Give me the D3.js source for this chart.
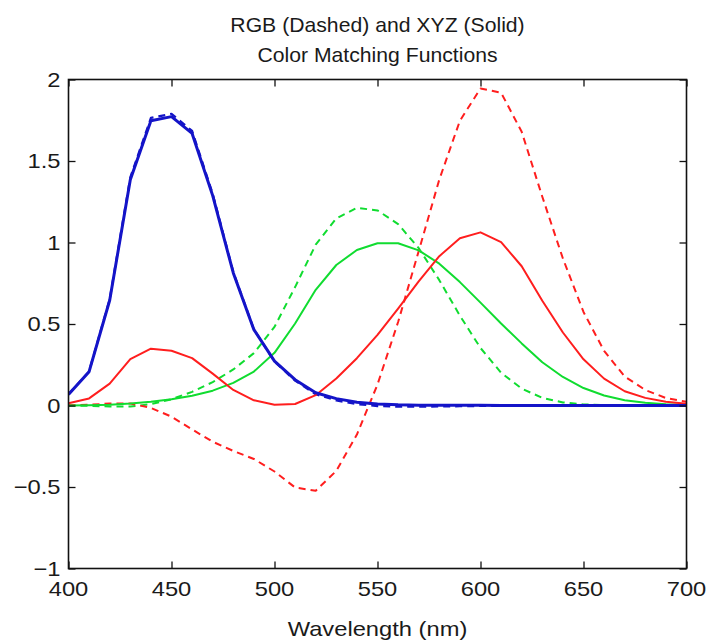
<!DOCTYPE html>
<html>
<head>
<meta charset="utf-8">
<script src="https://cdn.jsdelivr.net/npm/d3@7"></script>
<style>
  html, body { margin: 0; padding: 0; background: #fff; }
  svg { display: block; }
  text { font-family: "Liberation Sans", Arial, Helvetica, sans-serif; fill: #1a1a1a; }
</style>
</head>
<body>
<svg id="chart" width="712" height="641"></svg>
<script>
// ---- Data ----
const wavelengths = [400,410,420,430,440,450,460,470,480,490,500,510,520,530,540,550,560,570,580,590,600,610,620,630,640,650,660,670,680,690,700];

// RGB colour matching functions (dashed)
const rBar = [0.0017,0.0047,0.0119,0.0123,-0.0147,-0.0685,-0.147,-0.222,-0.279,-0.328,-0.405,-0.503,-0.523,-0.401,-0.178,0.129,0.512,0.947,1.386,1.747,1.945,1.919,1.679,1.281,0.902,0.574,0.335,0.178,0.095,0.046,0.023];
const gBar = [-0.0008,-0.0023,-0.0062,-0.0067,0.0084,0.0383,0.0839,0.1434,0.2211,0.3214,0.4823,0.7266,0.9869,1.1479,1.2128,1.1966,1.1132,0.9654,0.769,0.5511,0.3529,0.201,0.1033,0.0471,0.0189,0.0066,0.0021,0.0006,0.0002,0,0];
const bBar = [0.0686,0.2094,0.652,1.3994,1.7644,1.7894,1.6849,1.299,0.8189,0.4665,0.2698,0.1524,0.069,0.031,0.0082,-0.0033,-0.0073,-0.0076,-0.0061,-0.0045,-0.0028,-0.0017,-0.0008,-0.0005,-0.0002,-0.0001,0,0,0,0,0];

// XYZ colour matching functions (solid)
const xBar = [0.0143,0.0435,0.1344,0.2839,0.3483,0.3362,0.2908,0.1954,0.0956,0.032,0.0049,0.0093,0.0633,0.1655,0.2904,0.4334,0.5945,0.7621,0.9163,1.0263,1.0622,1.0026,0.8544,0.6424,0.4479,0.2835,0.1649,0.0874,0.0468,0.0227,0.0114];
const yBar = [0.0004,0.0012,0.004,0.0116,0.023,0.038,0.06,0.091,0.139,0.208,0.323,0.503,0.71,0.862,0.954,0.995,0.995,0.952,0.87,0.757,0.631,0.503,0.381,0.265,0.175,0.107,0.061,0.032,0.017,0.0082,0.0041];
const zBar = [0.0679,0.2074,0.6456,1.3856,1.7471,1.7721,1.6692,1.2876,0.813,0.4652,0.272,0.1582,0.0782,0.0422,0.0203,0.0087,0.0039,0.0021,0.0017,0.0011,0.0008,0.0003,0.0002,0,0,0,0,0,0,0,0];

const xTicks = [400,450,500,550,600,650,700];
const yTicks = [-1,-0.5,0,0.5,1,1.5,2];
const titleLines = ["RGB (Dashed) and XYZ (Solid)", "Color Matching Functions"];
const xLabel = "Wavelength (nm)";

const series = [
  {values: gBar, color: "#10dc30", dashed: true,  width: 2},
  {values: rBar, color: "#ff1e1e", dashed: true,  width: 2},
  {values: bBar, color: "#1414c8", dashed: true,  width: 2.2},
  {values: yBar, color: "#10dc30", dashed: false, width: 2},
  {values: xBar, color: "#ff1e1e", dashed: false, width: 2},
  {values: zBar, color: "#1414c8", dashed: false, width: 3}
];

// ---- Layout ----
const svg = d3.select("#chart");
const L = 68.5, R = 686.5, T = 79.5, B = 568.5;
const x = d3.scaleLinear().domain([400, 700]).range([L, R]);
const y = d3.scaleLinear().domain([-1, 2]).range([B, T]);
const SX = 1.13; // horizontal text stretch of the reference

const line = d3.line().x((d, i) => x(wavelengths[i])).y(d => y(d));

const g = svg.append("g");
g.append("defs").append("clipPath").attr("id", "clip")
  .append("rect").attr("x", L).attr("y", T).attr("width", R - L).attr("height", B - T);

const plot = g.append("g").attr("clip-path", "url(#clip)");
series.forEach(s => {
  plot.append("path")
    .datum(s.values)
    .attr("d", line)
    .attr("fill", "none")
    .attr("stroke", s.color)
    .attr("stroke-width", s.width)
    .attr("stroke-linejoin", "round")
    .attr("stroke-dasharray", s.dashed ? "7,5" : null);
});

// axes (ticks inward, mirrored)
const tickLen = 7;
function styleAxis(sel) {
  sel.select(".domain").remove();
  sel.selectAll("line").attr("stroke", "#111").attr("stroke-width", 1.3);
}
g.append("g").attr("transform", `translate(0,${B})`)
  .call(d3.axisBottom(x).tickValues(xTicks).tickSize(-tickLen).tickFormat(""))
  .call(styleAxis);
g.append("g").attr("transform", `translate(0,${T})`)
  .call(d3.axisTop(x).tickValues(xTicks).tickSize(-tickLen).tickFormat(""))
  .call(styleAxis);
g.append("g").attr("transform", `translate(${L},0)`)
  .call(d3.axisLeft(y).tickValues(yTicks).tickSize(-tickLen).tickFormat(""))
  .call(styleAxis);
g.append("g").attr("transform", `translate(${R},0)`)
  .call(d3.axisRight(y).tickValues(yTicks).tickSize(-tickLen).tickFormat(""))
  .call(styleAxis);

g.append("rect").attr("x", L).attr("y", T).attr("width", R - L).attr("height", B - T)
  .attr("fill", "none").attr("stroke", "#111").attr("stroke-width", 1.6);

// tick labels
const fmt = v => (v < 0 ? "\u2212" + String(-v) : String(v));
g.selectAll(".xl").data(xTicks).enter().append("text")
  .attr("transform", d => `translate(${x(d)},${B + 27}) scale(${SX},1)`)
  .attr("text-anchor", "middle").attr("font-size", 21).text(d => fmt(d));
g.selectAll(".yl").data(yTicks).enter().append("text")
  .attr("transform", d => `translate(${L - 8},${y(d) + 7}) scale(${SX},1)`)
  .attr("text-anchor", "end").attr("font-size", 21).text(d => fmt(d));

// x label
g.append("text")
  .attr("transform", `translate(${(L + R) / 2},${B + 67}) scale(${SX},1)`)
  .attr("text-anchor", "middle").attr("font-size", 21).text(xLabel);

// title
titleLines.forEach((t, i) => {
  g.append("text")
    .attr("transform", `translate(${(L + R) / 2},${32 + i * 30}) scale(1.06,1)`)
    .attr("text-anchor", "middle").attr("font-size", 20).text(t);
});
</script>
</body>
</html>
